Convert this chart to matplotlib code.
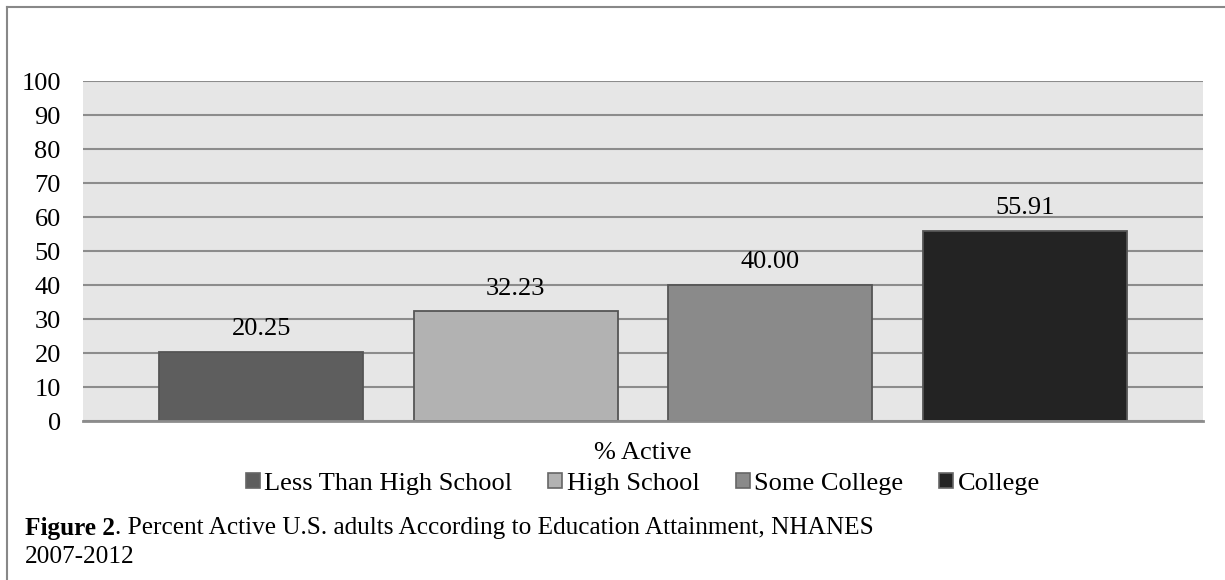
import matplotlib.pyplot as plt
from matplotlib.lines import Line2D
from matplotlib.patches import Patch

plt.rcParams['font.family'] = ['Liberation Serif', 'DejaVu Serif']

# % active by education level, NHANES 2007-2012
groups = ["Less Than High School", "High School", "Some College", "College"]
pct_active = [20.25, 32.23, 40.00, 55.91]
bar_colors = ["#5e5e5e", "#b2b2b2", "#8a8a8a", "#232323"]
yticks = list(range(0, 101, 10))

FS = 19
CAP_FS = 18.2
W, H = 1225, 580
fig = plt.figure(figsize=(W / 100, H / 100), dpi=100)

# plot area in pixel coords
left, top, right, bottom = 83, 81, 1203, 421
ax = fig.add_axes([left / W, 1 - bottom / H, (right - left) / W, (bottom - top) / H])
ax.set_facecolor("#e6e6e6")

x = list(range(len(groups)))
bars = ax.bar(x, pct_active, width=0.8, color=bar_colors,
              edgecolor="#555555", linewidth=1.3, zorder=3)
for b, v in zip(bars, pct_active):
    ax.annotate(f"{v:.2f}", (b.get_x() + b.get_width() / 2, v),
                xytext=(0, 12), textcoords="offset points",
                ha="center", va="baseline", fontsize=FS, color="black")

ax.set_xlim(-0.7, len(groups) - 1 + 0.7)
ax.set_ylim(0, 100)
ax.set_yticks(yticks)
ax.yaxis.grid(True, color="#8c8c8c", linewidth=1.5, zorder=1)
ax.set_axisbelow(True)
ax.tick_params(axis="y", length=0, pad=16, labelsize=FS)
ax.set_xticks([])
for s in ["top", "right", "left"]:
    ax.spines[s].set_visible(False)
ax.spines["bottom"].set_color("#8c8c8c")
ax.spines["bottom"].set_linewidth(2)
ax.spines["bottom"].set_zorder(4)

# category label and legend below the axes
fig.text(643 / W, 1 - 453 / H, "% Active", ha="center", va="center", fontsize=FS)
handles = [Patch(facecolor=c, edgecolor="#666666", linewidth=1.2) for c in bar_colors]
fig.legend(handles, groups, loc="center", bbox_to_anchor=(643 / W, 1 - 484 / H),
           ncol=4, frameon=False, fontsize=FS, handlelength=0.53, handleheight=0.53,
           handletextpad=0.18, columnspacing=1.36, borderaxespad=0, borderpad=0)

# caption, bold lead-in followed by plain text
cap = fig.text(25 / W, 1 - 528 / H, "Figure 2", ha="left", va="center",
               fontsize=CAP_FS, fontweight="bold")
fig.canvas.draw()
bb = cap.get_window_extent()
fig.text(bb.x1 / W, 1 - 528 / H,
         ". Percent Active U.S. adults According to Education Attainment, NHANES",
         ha="left", va="center", fontsize=CAP_FS)
fig.text(25 / W, 1 - 557 / H, "2007-2012", ha="left", va="center", fontsize=CAP_FS)

# outer frame: left and top edges
fig.add_artist(Line2D([7 / W, 7 / W], [0, 1 - 7 / H], color="#888888", linewidth=1.5))
fig.add_artist(Line2D([7 / W, 1], [1 - 7 / H, 1 - 7 / H], color="#888888", linewidth=1.5))

fig.savefig("out.png", dpi=100)
